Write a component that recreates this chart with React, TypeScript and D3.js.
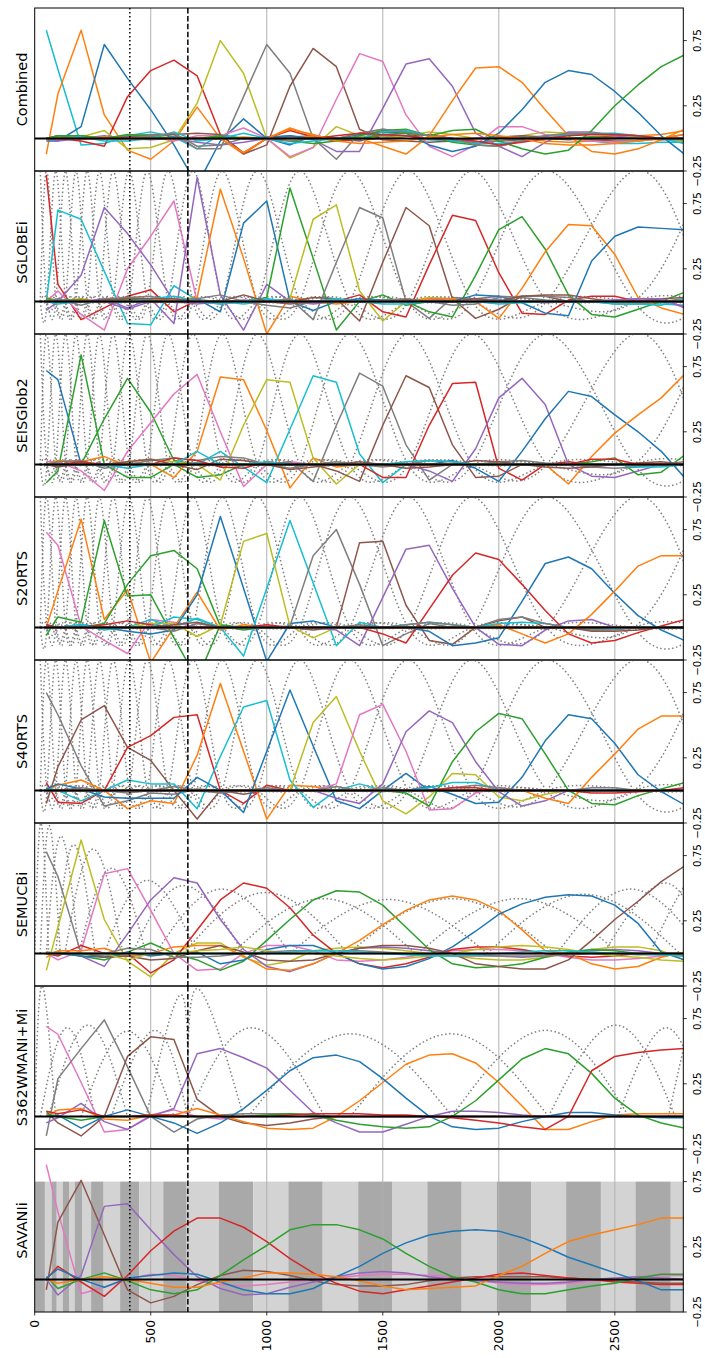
import React from "react";
import * as d3 from "d3";

// ---------- data ----------
const DEPTHS = [50, 100, 200, 300, 400, 500, 600, 700, 800, 900, 1000, 1100, 1200, 1300, 1400, 1500, 1600, 1700, 1800, 1900, 2000, 2100, 2200, 2300, 2400, 2500, 2600, 2700, 2800];
const PANEL_NAMES = ["Combined", "SGLOBEi", "SEISGlob2", "S20RTS", "S40RTS", "SEMUCBi", "S362WMANI+Mi", "SAVANIi"];
const DEPTH_TICKS = [0, 500, 1000, 1500, 2000, 2500];
const VALUE_TICKS = [-0.25, 0.25, 0.75];
const DISCONTINUITIES = [410, 660];

const combinedColors = [9, 1, 0, 3, 8, 7, 5, 6, 4, 1, 0, 2, 2, 9, 7, 3, 1];
const combinedLines = [
  [0.83,0.53,-0.05,-0.04,0.02, 0.05,0.01,-0.08,0.03,0.0, -0.01,0.01,0.02,0.0,0.01, 0.02,0.0,-0.01,-0.02,-0.03, -0.02,0.0,0.01,0.0,-0.02, -0.04,-0.04,-0.03,-0.03],
  [-0.12,0.34,0.83,0.18,-0.09, -0.16,-0.02,0.24,0.0,-0.12, 0.0,0.08,0.02,0.0,0.01, 0.02,0.02,0.0,-0.01,0.0, 0.01,0.0,-0.02,-0.03,-0.02, 0.0,0.02,0.03,0.06],
  [-0.02,-0.02,0.09,0.72,0.46, 0.22,-0.05,-0.36,-0.02,0.15, 0.0,-0.05,0.02,0.0,-0.02, 0.03,0.02,0.0,-0.01,0.0, 0.0,0.01,0.0,-0.01,0.0, 0.02,0.01,0.0,-0.02],
  [0.0,0.0,-0.02,-0.06,0.32, 0.52,0.6,0.48,0.03,-0.11, 0.0,0.06,0.01,-0.02,-0.01, 0.0,0.02,0.03,0.0,-0.03, -0.02,-0.01,0.0,0.0,0.01, 0.01,0.0,-0.01,0.0],
  [0.0,0.0,0.01,0.06,-0.08, -0.07,-0.01,0.27,0.75,0.5, 0.0,-0.15,-0.07,0.09,0.02, 0.0,0.02,0.05,0.03,0.0, -0.02,0.02,0.05,0.04,0.03, 0.02,0.01,0.0,-0.02],
  [0.0,0.02,0.0,0.0,0.02, 0.03,0.03,-0.08,-0.08,0.32, 0.72,0.5,0.0,-0.16,0.04, 0.07,0.05,0.02,0.0,-0.03, -0.02,0.0,0.02,0.03,0.03, 0.03,0.02,0.0,0.0],
  [0.0,0.0,0.0,0.0,0.01, 0.02,0.03,0.04,0.03,-0.12, -0.05,0.4,0.69,0.55,0.07, -0.01,-0.02,-0.03,-0.02,0.0, 0.01,0.02,0.01,0.0,-0.01, -0.02,-0.02,0.0,0.03],
  [0.0,0.0,0.0,0.0,0.0, 0.01,-0.02,0.02,0.02,0.08, 0.0,-0.14,-0.07,0.3,0.65, 0.59,0.18,-0.06,-0.14,-0.05, 0.09,0.09,0.03,0.0,-0.02, -0.03,-0.02,0.0,0.0],
  [0.0,-0.02,0.0,0.02,0.0, -0.01,0.0,-0.03,-0.05,-0.03, 0.0,0.02,-0.01,-0.1,-0.1, 0.23,0.57,0.61,0.4,0.04, -0.06,-0.14,-0.03,0.05,0.05, 0.02,0.0,0.0,0.0],
  [0.0,0.0,0.0,0.01,0.0, 0.0,0.0,0.0,0.0,0.01, 0.0,0.0,0.02,0.0,0.0, -0.06,-0.12,0.02,0.29,0.54, 0.55,0.43,0.22,0.02,-0.1, -0.12,-0.08,-0.01,0.07],
  [0.0,0.0,0.01,0.0,0.0, 0.0,0.01,0.0,0.0,0.0, 0.01,0.02,0.0,0.0,0.03, 0.05,0.04,-0.05,-0.1,-0.06, 0.04,0.22,0.43,0.52,0.49, 0.36,0.2,0.02,-0.12],
  [0.0,0.02,0.02,0.0,0.0, 0.01,0.0,0.0,0.01,0.0, 0.0,0.0,0.0,0.0,0.0, 0.03,0.04,0.02,0.06,0.07, -0.02,-0.08,-0.12,-0.09,0.06, 0.25,0.41,0.55,0.64],
  [0.0,0.02,0.02,0.0,0.03, 0.02,0.0,0.0,0.02,0.0, 0.0,-0.02,-0.04,-0.02,0.02, 0.06,0.07,0.02,-0.03,-0.05, -0.06,-0.02,0.0,0.0,0.01, 0.0,0.0,0.0,0.0],
  [0.0,0.0,0.01,-0.02,-0.02, 0.0,0.05,-0.02,0.0,0.04, 0.0,-0.04,-0.02,0.0,0.0, 0.05,0.06,0.02,-0.02,-0.04, -0.04,-0.02,0.0,0.03,0.04, 0.04,0.02,0.0,-0.04],
  [0.0,0.0,0.0,0.0,0.0, 0.02,0.04,-0.06,-0.05,0.0, 0.0,-0.02,0.0,0.0,0.04, 0.07,0.05,0.02,0.0,-0.05, -0.06,-0.02,0.02,0.04,0.04, 0.03,0.02,0.0,-0.01],
  [0.0,0.0,0.0,0.0,0.0, 0.0,0.0,0.0,0.0,0.0, 0.0,0.0,0.0,0.02,0.04, 0.03,0.02,0.0,0.0,-0.02, -0.05,-0.03,0.0,0.02,0.03, 0.03,0.02,0.0,0.0],
  [0.0,0.0,0.0,0.0,0.0, 0.0,0.0,0.0,0.0,-0.11, 0.0,0.07,0.03,-0.02,-0.04, -0.03,-0.02,0.01,0.03,0.04, 0.02,0.0,-0.04,-0.05,-0.05, -0.04,-0.02,0.0,0.03],
];

const sglobeColors = [3, 9, 4, 6, 4, 1, 0, 2, 8, 7, 5, 3, 2, 1, 0, 7, 9, 5, 4];
const sglobeLines = [
  [0.97,0.13,-0.14,-0.05,0.04, 0.09,-0.08,0.01,0.0,0.0, 0.01,0.0,-0.01,0.0,0.0, 0.0,0.0,0.0,0.0,0.0, 0.0,0.0,0.0,0.0,0.0, 0.0,0.0,0.0,0.0],
  [0.0,0.7,0.63,0.23,-0.17, -0.18,0.12,0.01,0.0,-0.02, 0.0,0.01,0.0,-0.01,0.0, 0.01,0.0,0.0,0.0,0.0, 0.01,0.0,0.0,0.0,0.0, 0.0,-0.01,-0.02,-0.03],
  [-0.07,0.0,0.2,0.72,0.52, 0.28,0.0,-0.02,0.0,0.01, 0.0,0.0,0.0,0.0,0.0, 0.0,0.0,0.0,0.0,0.0, 0.0,0.0,0.0,0.0,0.0, 0.0,0.0,0.0,0.0],
  [0.0,0.08,-0.1,-0.22,0.25, 0.5,0.77,0.0,-0.02,0.0, 0.01,0.0,0.0,0.0,0.0, 0.0,0.0,0.0,0.0,0.0, 0.0,0.0,0.0,0.0,0.0, 0.0,0.0,0.0,0.0],
  [0.0,0.0,0.0,0.02,-0.05, 0.02,-0.17,0.95,0.05,-0.22, 0.13,0.0,-0.02,0.0,0.0, 0.0,0.0,0.01,0.02,0.02, 0.01,0.0,-0.01,0.0,0.0, 0.01,0.02,0.01,-0.04],
  [0.03,0.0,0.02,-0.01,0.03, 0.02,0.01,0.03,0.86,0.33, -0.25,0.04,0.0,-0.02,0.0, 0.0,0.01,0.0,0.0,0.0, 0.0,0.0,0.0,0.0,0.0, 0.0,0.0,0.0,0.0],
  [0.0,0.0,0.0,0.0,0.0, 0.0,0.0,0.02,-0.08,0.6, 0.77,0.0,-0.07,0.0,0.02, 0.01,0.0,0.0,0.0,0.0, 0.0,0.0,0.0,0.0,0.0, 0.0,0.0,0.0,0.0],
  [0.02,0.01,0.01,0.0,0.02, 0.0,0.0,0.0,0.0,0.0, 0.03,0.87,0.33,-0.22,0.0, 0.05,-0.03,0.0,0.0,0.0, 0.0,0.0,0.0,0.0,0.0, 0.0,0.0,0.0,0.0],
  [0.0,0.0,0.0,0.0,0.0, 0.0,0.0,0.0,0.0,0.0, 0.0,0.02,0.63,0.74,0.08, -0.15,0.0,0.03,0.02,0.0, 0.0,0.0,0.0,0.0,0.0, 0.0,0.0,0.0,0.0],
  [0.0,0.0,0.0,0.0,0.0, 0.0,0.0,0.0,0.0,0.0, 0.0,0.02,-0.14,0.3,0.72, 0.64,0.0,-0.13,0.03,0.02, 0.04,0.03,0.01,0.0,0.0, 0.0,0.0,0.0,0.0],
  [0.0,0.0,0.0,0.0,0.0, 0.0,0.0,0.0,0.0,0.0, 0.0,0.0,0.03,0.02,-0.15, 0.3,0.72,0.58,0.02,-0.13, -0.06,0.04,0.04,0.0,0.0, 0.0,0.0,0.0,0.0],
  [0.0,0.0,0.0,0.0,0.0, 0.0,0.0,0.0,0.0,0.0, 0.0,0.0,0.0,0.0,0.05, -0.08,-0.12,0.28,0.66,0.62, 0.22,-0.09,-0.1,0.01,0.04, 0.04,0.0,0.0,0.0],
  [0.0,0.0,0.0,0.0,0.0, 0.0,0.0,0.0,0.0,0.0, 0.0,0.0,0.0,0.0,0.0, 0.0,0.0,-0.08,-0.12,0.2, 0.55,0.65,0.4,0.05,-0.1, -0.12,-0.06,0.0,0.07],
  [0.0,0.0,0.0,0.0,0.0, 0.0,0.0,0.0,0.0,0.0, 0.0,0.0,0.0,0.0,0.0, 0.0,0.0,0.02,0.02,0.0, -0.13,0.1,0.38,0.59,0.58, 0.36,0.03,-0.05,-0.1],
  [0.0,0.0,0.0,0.0,0.0, 0.0,0.0,0.0,0.0,0.0, 0.0,0.0,0.0,0.0,0.0, 0.0,0.0,0.0,0.0,0.05, 0.04,-0.01,-0.09,-0.11,0.31, 0.5,0.57,0.56,0.55],
  [0.0,0.02,-0.03,0.02,0.03, 0.04,0.0,0.02,0.05,0.0, -0.03,-0.05,0.0,0.02,0.0, 0.01,0.02,0.0,-0.03,-0.02, 0.03,0.04,0.04,0.03,0.0, -0.02,-0.02,0.0,0.02],
  [0.0,-0.02,0.0,0.0,0.0, 0.02,0.04,0.0,-0.02,0.0, 0.02,0.0,0.0,0.02,0.0, -0.02,-0.02,0.0,0.0,0.0, -0.02,-0.01,0.0,0.0,0.0, -0.02,-0.02,-0.03,0.02],
  [0.0,0.0,0.0,0.01,0.02, 0.02,0.02,0.0,0.0,0.05, 0.0,-0.02,0.0,0.0,0.0, 0.0,0.01,0.0,0.0,0.02, 0.0,0.04,0.05,0.05,0.02, 0.0,0.0,0.02,0.03],
  [0.0,0.0,0.0,0.0,-0.06, 0.0,0.0,0.0,0.0,0.0, 0.0,0.0,0.0,0.0,0.0, 0.0,0.0,0.0,0.0,0.0, 0.0,0.0,0.0,0.0,0.0, 0.01,0.02,0.02,-0.05],
];

const seisColors = [0, 2, 2, 6, 1, 8, 9, 7, 5, 3, 4, 0, 1, 2, 7, 5, 3, 9];
const seisLines = [
  [0.72,0.65,0.0,-0.01,0.01, 0.0,0.0,0.01,0.0,0.0, 0.0,0.0,0.0,0.0,0.0, 0.0,0.0,0.0,0.0,0.0, 0.0,0.0,0.0,0.0,0.0, 0.0,0.0,0.0,0.0],
  [-0.14,-0.05,0.84,0.0,-0.1, -0.1,0.0,-0.1,-0.08,0.0, 0.0,0.0,0.0,0.0,0.0, 0.0,0.0,0.0,0.0,0.0, 0.0,0.0,0.0,0.0,0.0, 0.0,0.0,0.0,0.0],
  [0.0,0.0,0.0,0.35,0.66, 0.4,0.03,0.0,0.0,0.0, 0.0,0.0,0.0,0.0,0.0, 0.0,0.0,0.0,0.0,0.0, 0.0,0.0,0.0,0.0,0.0, 0.0,0.0,0.0,0.0],
  [0.02,0.02,-0.05,-0.2,0.1, 0.32,0.54,0.69,0.25,-0.17, 0.0,0.02,0.0,0.0,0.0, 0.0,0.0,0.0,0.0,0.0, 0.0,0.0,0.0,0.0,0.0, 0.0,0.0,0.0,0.0],
  [0.0,0.03,0.02,0.06,-0.01, 0.0,-0.1,0.1,0.67,0.65, 0.26,-0.18,0.05,-0.02,0.0, 0.0,0.0,0.0,0.0,0.0, 0.0,0.0,0.0,0.0,0.0, 0.0,0.0,0.0,0.0],
  [0.0,0.0,0.0,0.0,0.02, 0.04,0.02,0.0,-0.12,0.3, 0.65,0.63,0.05,-0.15,0.0, 0.0,0.0,0.0,0.0,0.0, 0.0,0.0,0.0,0.0,0.0, 0.0,0.0,0.0,0.0],
  [0.0,0.0,0.0,0.0,0.0, 0.0,0.0,0.0,0.1,-0.02, -0.14,0.27,0.68,0.63,0.08, -0.14,0.0,0.0,0.0,0.0, 0.0,0.0,0.0,0.0,0.0, 0.0,0.0,0.0,0.0],
  [0.0,0.0,0.0,0.0,0.0, 0.0,0.0,0.0,0.0,0.0, 0.0,0.02,-0.13,0.3,0.7, 0.6,0.15,-0.12,0.0,0.0, 0.0,0.0,0.0,0.0,0.0, 0.0,0.0,0.0,0.0],
  [0.0,0.0,0.0,0.0,0.0, 0.0,0.0,0.0,0.0,0.0, 0.0,0.0,0.0,-0.05,-0.13, 0.3,0.68,0.59,0.15,-0.1, -0.09,0.0,0.0,0.0,0.0, 0.0,0.0,0.0,0.0],
  [0.0,0.0,0.0,0.0,0.0, 0.0,0.0,0.0,0.0,0.0, 0.0,0.0,0.0,0.0,0.0, -0.1,-0.1,0.3,0.62,0.63, -0.03,-0.12,0.0,0.02,0.0, 0.0,0.0,0.0,0.0],
  [0.0,0.0,0.0,0.0,0.0, 0.0,0.0,0.0,0.0,0.0, 0.0,0.0,0.0,0.0,0.0, 0.0,0.0,-0.05,-0.13,0.12, 0.51,0.66,0.46,0.0,-0.09, -0.1,-0.05,0.0,0.0],
  [0.0,0.0,0.0,0.0,0.0, 0.0,0.0,0.0,0.0,0.0, 0.0,0.0,0.0,0.0,0.0, 0.0,0.0,0.0,0.03,-0.03, -0.13,0.1,0.35,0.56,0.52, 0.38,0.25,0.1,-0.1],
  [0.0,0.0,0.0,0.0,0.0, 0.0,0.0,0.0,0.0,0.0, 0.0,0.0,0.0,0.0,0.0, 0.0,0.0,0.0,0.0,0.0, 0.0,0.0,0.0,-0.15,0.06, 0.24,0.38,0.51,0.69],
  [0.0,0.0,0.0,0.0,0.0, 0.0,0.0,0.0,0.0,0.0, 0.0,0.0,0.0,0.0,0.0, 0.0,0.0,0.0,0.0,0.0, 0.0,0.0,0.0,0.0,0.02, 0.05,-0.08,-0.06,0.07],
  [0.0,0.02,0.03,-0.03,0.0, 0.03,0.05,0.03,0.06,0.05, 0.0,-0.03,0.0,0.02,0.0, -0.02,0.0,0.03,0.02,0.0, 0.02,0.03,0.01,0.0,-0.02, -0.03,-0.02,0.0,0.02],
  [0.0,-0.02,0.01,0.0,0.02, 0.04,0.0,-0.04,0.04,0.03, 0.0,-0.04,-0.02,0.0,0.02, 0.0,-0.03,-0.02,0.0,0.03, 0.02,0.0,-0.02,-0.03,-0.02, 0.0,0.01,0.02,0.0],
  [0.0,0.0,0.02,0.0,0.0, 0.0,0.05,0.03,-0.02,-0.03, 0.02,0.0,0.0,0.0,0.0, 0.0,0.0,0.0,0.0,0.0, 0.0,0.0,0.0,0.0,0.04, 0.04,0.0,0.0,0.0],
  [0.0,0.0,0.0,0.0,-0.03, 0.0,0.0,0.1,0.0,0.0, 0.02,0.0,0.0,0.0,0.0, 0.0,0.02,0.03,0.02,0.0, 0.0,0.0,0.0,0.0,0.0, 0.0,-0.02,-0.02,0.0],
];

const s20Colors = [6, 1, 2, 2, 0, 9, 8, 7, 5, 4, 3, 0, 1, 3, 9, 7, 5];
const s20Lines = [
  [0.73,0.63,0.01,-0.1,-0.2, 0.06,0.04,0.0,0.0,0.0, 0.0,0.0,0.0,0.0,0.0, 0.0,0.0,0.0,0.0,0.0, 0.0,0.0,0.0,0.0,0.0, 0.0,0.0,0.0,0.0],
  [0.0,0.28,0.83,0.06,0.29, -0.27,0.0,0.27,-0.02,0.02, 0.0,0.0,0.0,0.0,0.0, 0.0,0.0,0.0,0.0,0.0, 0.0,0.0,0.0,0.0,0.0, 0.0,0.0,0.0,0.0],
  [-0.06,0.08,0.04,0.82,0.24, 0.25,-0.08,-0.4,0.02,0.0, 0.0,0.0,0.0,0.0,0.0, 0.0,0.0,0.0,0.0,0.0, 0.0,0.0,0.0,0.0,0.0, 0.0,0.0,0.0,0.0],
  [0.0,0.0,0.0,0.03,0.33, 0.55,0.59,0.45,0.01,-0.02, 0.0,0.0,0.0,0.0,0.0, 0.0,0.0,0.0,0.0,0.0, 0.0,0.0,0.0,0.0,0.0, 0.0,0.0,0.0,0.0],
  [0.02,0.0,0.02,0.0,-0.03, -0.05,-0.02,0.25,0.85,0.3, -0.26,0.03,0.05,0.0,0.0, 0.0,0.0,0.0,0.0,0.0, 0.0,0.0,0.0,0.0,0.0, 0.0,0.0,0.0,0.0],
  [0.0,0.0,0.0,0.0,0.0, 0.06,0.0,0.07,0.0,-0.22, 0.3,0.82,0.34,-0.14,0.04, 0.0,0.0,0.0,0.0,0.0, 0.0,0.0,0.0,0.0,0.0, 0.0,0.0,0.0,0.0],
  [0.0,0.0,0.0,0.0,0.0, 0.03,0.03,-0.07,0.02,0.66, 0.72,0.01,-0.08,0.0,0.0, 0.0,0.0,0.0,0.0,0.0, 0.0,0.0,0.0,0.0,0.0, 0.0,0.0,0.0,0.0],
  [0.0,0.0,0.0,0.0,0.0, 0.0,0.0,0.0,0.0,0.0, 0.0,0.01,0.55,0.75,0.33, -0.14,-0.05,0.03,0.0,0.0, 0.0,0.0,0.0,0.0,0.0, 0.0,0.0,0.0,0.0],
  [0.0,0.0,0.0,0.0,0.0, 0.0,0.0,0.0,0.0,0.0, 0.0,0.0,-0.02,0.0,0.65, 0.66,0.17,-0.1,-0.13,0.0, 0.05,0.08,0.0,0.0,0.0, 0.0,0.0,0.0,0.0],
  [0.0,0.0,0.0,0.0,0.0, 0.0,0.0,0.0,0.0,0.0, 0.0,0.0,0.0,-0.02,-0.14, 0.23,0.6,0.63,0.3,0.0, -0.13,-0.14,-0.02,0.05,0.06, 0.0,0.0,0.0,0.0],
  [0.0,0.0,0.0,0.0,0.0, 0.0,0.0,0.0,0.0,0.0, 0.0,0.0,0.0,0.0,0.0, -0.05,-0.12,0.14,0.4,0.57, 0.52,0.33,0.13,-0.05,-0.12, -0.1,-0.04,0.01,0.06],
  [0.0,0.0,0.0,0.0,0.0, 0.0,0.0,0.0,0.0,0.0, 0.0,0.0,0.0,0.0,0.0, 0.0,0.0,-0.03,-0.14,-0.12, -0.08,0.2,0.49,0.54,0.45, 0.26,0.09,-0.02,-0.1],
  [0.0,0.0,0.0,0.0,0.0, 0.0,0.0,0.0,0.0,0.0, 0.0,0.0,0.0,0.0,0.0, 0.0,0.0,0.0,0.0,0.0, 0.02,-0.05,-0.12,-0.05,0.1, 0.28,0.47,0.55,0.55],
  [0.02,0.0,0.0,0.02,0.05, 0.02,0.0,0.0,0.0,0.0, 0.02,0.0,0.0,0.0,0.0, 0.0,0.0,0.0,0.0,0.0, 0.0,0.0,0.0,0.0,0.0, 0.0,0.0,0.0,0.0],
  [0.0,0.0,0.02,-0.02,0.0, 0.0,0.08,0.06,0.0,0.0, 0.0,0.0,0.0,0.0,0.0, 0.0,0.02,0.04,0.02,0.0, 0.03,0.04,0.03,0.0,-0.02, -0.01,0.0,0.0,0.0],
  [0.0,0.0,0.0,0.0,0.0, 0.0,-0.03,0.03,0.0,0.0, 0.0,0.0,0.0,0.0,0.02, 0.0,0.02,0.04,0.02,0.0, 0.06,0.08,0.03,0.0,-0.02, -0.02,0.0,0.0,0.0],
  [0.0,0.0,0.0,0.0,0.0, 0.0,0.02,0.04,0.0,0.0, 0.0,0.0,0.0,0.0,0.0, 0.0,0.0,0.0,0.0,0.0, 0.0,0.0,0.0,0.0,-0.03, -0.03,-0.02,0.0,0.0],
];

const s40Colors = [7, 5, 3, 1, 9, 0, 8, 6, 4, 2, 0, 1, 9, 7, 3];
const s40Lines = [
  [0.75,0.58,0.19,-0.12,-0.08, -0.02,-0.03,0.01,0.0,0.0, 0.0,0.0,0.0,0.0,0.0, 0.0,0.0,0.0,0.0,0.0, 0.0,0.0,0.0,0.0,0.0, 0.0,0.0,0.0,0.0],
  [-0.1,0.18,0.54,0.65,0.33, 0.23,0.0,-0.22,0.0,-0.03, 0.0,0.0,0.0,0.0,0.0, 0.0,0.0,0.0,0.0,0.0, 0.0,0.0,0.0,0.0,0.0, 0.0,0.0,0.0,0.0],
  [0.06,-0.09,-0.1,0.0,0.33, 0.42,0.56,0.58,0.0,-0.1, 0.04,0.0,0.0,0.0,0.0, 0.0,0.0,0.0,0.0,0.0, 0.0,0.0,0.0,0.0,0.0, 0.0,0.0,0.0,0.0],
  [0.0,0.04,0.08,0.0,-0.14, -0.08,-0.1,0.27,0.82,0.3, -0.22,0.04,0.03,0.0,0.0, 0.0,0.0,0.0,0.0,0.0, 0.0,0.0,0.0,0.0,0.0, 0.0,0.0,0.0,0.0],
  [0.02,0.0,-0.08,0.0,0.08, 0.05,0.05,-0.14,0.26,0.64, 0.69,0.08,-0.13,0.0,0.05, 0.0,0.0,0.0,0.0,0.0, 0.0,0.0,0.0,0.0,0.0, 0.0,0.0,0.0,0.0],
  [0.01,0.05,0.01,-0.05,-0.06, -0.06,-0.06,0.1,0.0,-0.17, 0.3,0.77,0.34,-0.08,-0.14, 0.0,0.13,0.0,0.0,0.0, 0.0,0.0,0.0,0.0,0.0, 0.0,0.0,0.0,0.0],
  [0.0,0.0,0.0,0.0,0.0, 0.0,0.0,0.0,0.0,0.0, 0.0,0.0,0.52,0.72,0.3, -0.08,-0.18,-0.05,0.13,0.12, -0.05,-0.08,-0.03,0.0,0.0, 0.0,0.0,0.0,0.0],
  [0.0,0.0,0.0,0.0,0.0, 0.0,0.0,0.0,0.0,0.0, 0.0,0.0,0.0,0.05,0.58, 0.66,0.3,-0.15,-0.14,-0.02, 0.02,0.0,0.0,0.0,0.0, 0.0,0.0,0.0,0.0],
  [0.0,0.0,0.0,0.0,0.0, 0.0,0.0,0.0,0.0,0.0, 0.0,0.0,0.0,-0.06,-0.1, 0.05,0.45,0.61,0.52,0.22, -0.01,-0.12,-0.08,0.0,0.0, 0.0,0.0,0.0,0.0],
  [0.0,0.0,0.0,0.0,0.0, 0.0,0.0,0.0,0.0,0.0, 0.0,0.0,0.0,0.0,0.0, 0.0,-0.02,-0.12,0.22,0.45, 0.59,0.55,0.28,0.0,-0.1, -0.11,-0.04,0.01,0.06],
  [0.0,0.0,0.0,0.0,0.0, 0.0,0.0,0.0,0.0,0.0, 0.0,0.0,0.0,0.0,0.0, 0.0,0.0,0.03,-0.03,-0.1, -0.09,0.1,0.38,0.58,0.55, 0.36,0.12,-0.01,-0.11],
  [0.0,0.0,0.0,0.0,0.0, 0.0,0.0,0.0,0.0,0.0, 0.0,0.0,0.0,0.0,0.0, 0.0,0.0,0.0,0.0,0.0, 0.0,0.0,-0.06,-0.1,0.1, 0.28,0.47,0.57,0.57],
  [0.0,0.0,0.0,0.0,0.0, 0.0,0.0,0.0,0.0,0.0, 0.0,0.0,0.0,0.0,0.0, 0.0,0.0,0.02,0.06,0.06, 0.0,0.0,0.0,0.0,0.0, 0.0,0.0,0.0,0.0],
  [0.0,0.0,0.02,0.0,-0.02, 0.0,0.03,0.0,-0.02,0.0, 0.02,0.0,0.0,0.03,0.0, 0.02,0.0,0.0,0.02,0.04, 0.02,0.0,0.0,0.0,0.02, 0.02,0.0,0.0,0.0],
  [0.0,0.0,0.0,0.0,0.0, 0.0,0.0,0.0,0.0,0.0, 0.0,0.0,0.0,0.0,0.0, 0.0,0.0,0.0,0.02,0.02, 0.0,0.0,0.0,0.0,-0.02, -0.02,-0.01,0.0,0.02],
];

const semucbColors = [7, 8, 6, 4, 3, 2, 1, 0, 5, 8, 7, 9];
const semucbLines = [
  [0.78,0.59,0.0,-0.02,-0.02, -0.01,0.0,0.0,0.0,0.0, 0.0,0.0,0.0,0.0,0.0, 0.0,0.0,0.0,0.0,0.0, 0.0,0.0,0.0,0.0,0.0, 0.0,0.0,0.0,0.0],
  [-0.13,0.2,0.87,0.26,-0.06, -0.18,0.0,0.08,0.08,-0.03, -0.09,-0.06,0.02,0.04,0.05, 0.04,0.02,0.0,-0.02,-0.04, -0.05,-0.05,-0.03,0.0,0.03, 0.05,0.05,0.02,-0.05],
  [0.0,-0.05,0.02,0.61,0.65, 0.33,0.0,-0.13,-0.12,0.0, 0.06,0.06,0.02,-0.05,-0.06, -0.05,-0.03,0.0,0.02,0.03, 0.03,0.02,0.0,-0.03,-0.05, -0.05,-0.04,-0.02,0.0],
  [0.0,0.01,-0.02,-0.1,0.15, 0.41,0.58,0.54,0.26,0.03, -0.1,-0.14,-0.08,0.0,0.04, 0.05,0.04,0.02,0.0,-0.01, -0.02,-0.03,-0.02,0.0,0.02, 0.03,0.02,0.0,0.0],
  [0.0,-0.02,0.06,0.0,0.0, -0.15,-0.05,0.18,0.41,0.54, 0.5,0.35,0.14,0.0,-0.08, -0.11,-0.08,-0.03,0.03,0.05, 0.05,0.03,0.0,-0.02,-0.03, -0.02,0.0,0.0,0.0],
  [0.0,0.01,-0.02,-0.05,0.01, 0.08,0.0,-0.05,-0.13,-0.06, 0.1,0.26,0.41,0.48,0.47, 0.37,0.2,0.03,-0.08,-0.11, -0.1,-0.08,-0.03,0.01,0.03, 0.02,0.0,0.0,0.0],
  [-0.03,0.02,0.02,0.04,-0.02, 0.0,0.05,0.06,0.06,-0.02, -0.12,-0.13,-0.08,0.0,0.1, 0.22,0.33,0.41,0.44,0.41, 0.33,0.18,0.02,0.0,-0.08, -0.12,-0.1,-0.03,0.01],
  [0.0,0.0,-0.02,-0.03,0.01, -0.02,0.0,0.01,-0.08,-0.05, 0.03,0.06,0.06,0.0,-0.08, -0.12,-0.1,-0.04,0.05,0.17, 0.3,0.38,0.43,0.45,0.44, 0.37,0.23,0.01,-0.05],
  [0.01,0.0,0.0,-0.03,-0.02, -0.05,-0.04,0.02,0.06,0.01, -0.05,-0.06,-0.05,0.0,0.04, 0.06,0.06,0.04,0.0,-0.08, -0.1,-0.12,-0.12,-0.05,0.1, 0.26,0.4,0.55,0.67],
  [0.0,0.0,0.0,0.0,-0.05, 0.0,0.0,0.02,0.03,0.05, 0.02,0.0,0.0,-0.02,-0.04, -0.05,-0.04,-0.02,0.0,0.03, 0.05,0.06,0.05,0.03,0.0, -0.02,-0.03,-0.05,-0.06],
  [0.0,0.0,0.0,0.0,0.04, 0.03,-0.03,-0.03,-0.02,0.0, 0.01,0.02,0.02,0.02,0.02, 0.01,0.0,-0.01,-0.02,-0.02, -0.02,-0.02,-0.02,-0.01,0.0, 0.0,-0.01,-0.01,-0.02],
  [0.0,0.0,0.0,0.0,0.0, 0.0,0.0,0.0,0.0,0.0, 0.0,0.01,0.02,0.02,0.01, 0.0,-0.01,-0.02,-0.02,-0.01, 0.0,0.01,0.02,0.02,0.01, 0.0,0.0,-0.01,-0.02],
];

const s362Colors = [6, 7, 5, 4, 1, 0, 2, 3];
const s362Lines = [
  [0.69,0.63,0.26,-0.12,-0.1, 0.01,0.05,0.0,-0.02,0.0, 0.0,0.0,0.0,0.0,0.0, 0.0,0.0,0.0,0.0,0.0, 0.0,0.0,0.0,0.0,0.0, 0.0,0.0,0.0,0.0],
  [-0.15,0.29,0.52,0.74,0.38, 0.0,-0.12,-0.02,0.01,0.02, 0.02,0.02,0.01,0.0,0.0, 0.0,0.0,0.0,0.0,0.0, 0.0,0.0,0.0,0.0,0.0, 0.0,0.0,0.0,0.0],
  [0.04,-0.05,-0.15,0.0,0.46, 0.61,0.59,0.13,0.0,-0.05, -0.07,-0.05,-0.02,0.0,0.0, 0.0,0.0,0.0,0.0,0.0, 0.0,0.0,0.0,0.0,0.0, 0.0,0.0,0.0,0.0],
  [-0.05,-0.01,0.1,-0.04,-0.1, 0.0,0.06,0.48,0.52,0.45, 0.37,0.2,0.03,-0.05,-0.12, -0.12,-0.06,0.0,0.04,0.04, 0.03,0.01,0.0,0.0,0.0, 0.0,0.0,0.0,0.0],
  [0.0,0.05,0.06,-0.02,-0.03, 0.01,0.01,0.06,0.01,-0.04, -0.09,-0.1,-0.09,0.0,0.12, 0.26,0.4,0.47,0.48,0.41, 0.26,0.08,-0.1,-0.1,-0.04, 0.01,0.02,0.02,0.02],
  [0.0,0.01,-0.09,0.0,0.05, 0.0,-0.05,-0.13,-0.05,0.06, 0.2,0.35,0.45,0.47,0.42, 0.29,0.14,0.0,-0.08,-0.1, -0.09,-0.04,0.0,0.03,0.03, 0.01,0.0,-0.01,-0.01],
  [0.02,0.0,-0.03,0.0,0.0, 0.01,0.0,0.0,0.0,0.0, 0.01,0.02,0.01,-0.03,-0.06, -0.08,-0.09,-0.08,0.0,0.12, 0.28,0.44,0.52,0.48,0.33, 0.14,0.01,-0.05,-0.09],
  [0.04,0.02,0.05,0.0,0.0, 0.01,0.01,0.0,0.0,0.0, 0.0,0.01,0.02,0.02,0.02, 0.01,0.01,0.0,-0.01,-0.03, -0.05,-0.08,-0.1,0.0,0.35, 0.46,0.49,0.51,0.52],
];

const savaniColors = [6, 5, 4, 3, 2, 0, 1];
const savaniLines = [
  [0.88,0.52,-0.11,-0.06,0.0, 0.04,0.03,-0.01,-0.04,-0.05, -0.04,-0.02,0.0,0.01,0.03, 0.04,0.04,0.03,0.02,0.0, -0.03,-0.04,-0.04,-0.03,-0.01, 0.0,0.02,0.03,0.03],
  [-0.08,0.44,0.76,0.34,-0.08, -0.18,-0.13,-0.04,0.03,0.07, 0.06,0.03,-0.01,-0.04,-0.05, -0.05,-0.04,-0.01,0.01,0.02, 0.02,0.02,0.02,0.01,0.0, -0.01,-0.02,-0.03,-0.03],
  [0.0,-0.12,0.03,0.56,0.58, 0.38,0.19,0.02,-0.07,-0.12, -0.11,-0.06,-0.02,0.02,0.05, 0.06,0.05,0.02,0.0,-0.01, -0.02,-0.03,-0.03,-0.02,0.0, 0.01,0.02,0.01,0.0],
  [0.0,0.1,-0.02,-0.13,0.03, 0.22,0.37,0.47,0.47,0.4, 0.29,0.16,0.05,-0.03,-0.09, -0.11,-0.08,-0.05,-0.02,0.01, 0.04,0.05,0.03,0.01,0.0, -0.02,-0.03,-0.04,-0.04],
  [0.02,-0.07,0.0,0.05,-0.01, -0.08,-0.11,-0.08,0.03,0.15, 0.26,0.38,0.42,0.42,0.38, 0.31,0.2,0.1,0.02,-0.02, -0.08,-0.11,-0.11,-0.08,-0.05, -0.03,0.01,0.04,0.04],
  [0.01,0.08,0.0,-0.06,0.01, 0.03,0.05,0.04,-0.02,-0.08, -0.11,-0.11,-0.07,0.02,0.1, 0.2,0.28,0.34,0.37,0.38, 0.37,0.32,0.25,0.17,0.11, 0.05,-0.01,-0.08,-0.08],
  [0.0,-0.03,0.0,0.02,0.0, -0.03,-0.06,-0.06,-0.02,0.01, 0.05,0.05,0.04,0.02,-0.01, -0.05,-0.08,-0.07,-0.06,-0.05, 0.03,0.1,0.2,0.29,0.34, 0.38,0.42,0.47,0.47],
];

// radial basis of the spline models (dotted grey curves)
const s20Knots = [24, 53, 91, 133, 178, 226, 279, 338, 407, 485, 575, 682, 808, 960, 1142, 1358, 1609, 1885, 2206, 2583, 2891];

const semucbHumpPeak = [25, 60, 110, 165, 250, 330, 479, 633, 806, 997, 1242, 1524, 1796, 2087, 2368, 2568, 2740, 2891];
const semucbHumpLeft = [0, 24, 50, 90, 130, 190, 300, 420, 520, 640, 850, 1100, 1350, 1650, 1950, 2250, 2450, 2650];
const semucbHumpRight = [60, 110, 190, 260, 380, 480, 700, 900, 1100, 1350, 1640, 1950, 2240, 2520, 2780, 2891, 2891, 2891];
const semucbHumpAmp = [1.5, 1.47, 1.35, 1.25, 1.2, 0.98, 0.84, 0.78, 0.74, 0.7, 0.63, 0.62, 0.63, 0.63, 0.68, 0.74, 0.81, 0.9];

const s362HumpPeak = [25, 140, 230, 400, 530, 660, 660, 924, 1360, 1796, 2214, 2513, 2731, 2891];
const s362HumpLeft = [0, 24, 60, 200, 330, 480, 660, 660, 920, 1360, 1796, 2214, 2513, 2731];
const s362HumpRight = [90, 260, 400, 600, 660, 660, 900, 1250, 1800, 2214, 2560, 2760, 2891, 2891];
const s362HumpAmp = [1.5, 1.02, 1.05, 0.98, 0.99, 1.4, 1.47, 1.02, 0.95, 0.95, 0.99, 1.05, 1.02, 1.3];

const savaniLayers = [0, 44, 73, 95, 121, 148, 172, 204, 243, 297, 368, 451, 554, 655, 794, 942, 1093, 1241, 1394, 1542, 1692, 1840, 1991, 2139, 2290, 2440, 2589, 2741, 2891];

// ---------- layout ----------
const PLOT_LEFT = 34.7;
const PLOT_RIGHT = 683.3;
const TOP0 = 8;
const PH = 163;
const FONT = "DejaVu Sans";

const PANELS = [
  { lines: combinedLines, colors: combinedColors, kind: "none" },
  { lines: sglobeLines, colors: sglobeColors, kind: "s20" },
  { lines: seisLines, colors: seisColors, kind: "s20" },
  { lines: s20Lines, colors: s20Colors, kind: "s20" },
  { lines: s40Lines, colors: s40Colors, kind: "s20" },
  { lines: semucbLines, colors: semucbColors, kind: "semucb" },
  { lines: s362Lines, colors: s362Colors, kind: "s362" },
  { lines: savaniLines, colors: savaniColors, kind: "savani" },
];

export default function App() {
  const x = d3.scaleLinear().domain([0, 2795]).range([PLOT_LEFT, PLOT_RIGHT]);
  const y = d3.scaleLinear().domain([-0.25, 1.0]).range([PH, 0]);
  const colors = d3.schemeCategory10;
  const kernelLine = d3
    .line<number>()
    .x((_, i) => x(DEPTHS[i]))
    .y((v) => y(v));
  const natural = d3
    .line<[number, number]>()
    .x((d) => x(d[0]))
    .y((d) => y(d[1]))
    .curve(d3.curveNatural);
  const basis = d3
    .line<[number, number]>()
    .x((d) => x(d[0]))
    .y((d) => y(d[1]))
    .curve(d3.curveBasis);
  const fmt = d3.format(".2f");

  const s20Paths = s20Knots.map((_, i) =>
    natural(s20Knots.map((k, j) => [k, j === i ? 1 : 0] as [number, number])) as string
  );
  const humpPaths = (L: number[], P: number[], R: number[], A: number[]) =>
    P.map((p, i) =>
      basis([
        [L[i], 0],
        [L[i], 0],
        [p, A[i]],
        [R[i], 0],
        [R[i], 0],
      ]) as string
    );
  const semucbPaths = humpPaths(semucbHumpLeft, semucbHumpPeak, semucbHumpRight, semucbHumpAmp);
  const s362Paths = humpPaths(s362HumpLeft, s362HumpPeak, s362HumpRight, s362HumpAmp);

  const dotted = (paths: string[], key: string) =>
    paths.map((d, i) => (
      <path key={key + i} d={d} fill="none" stroke="#808080" strokeWidth={1.5} strokeDasharray="1.5,2.5" />
    ));

  const width = PLOT_RIGHT - PLOT_LEFT;
  const bottom = TOP0 + PANELS.length * PH;

  return (
    <svg
      width={705}
      height={1358}
      style={{ position: "absolute", left: 0, top: 0, background: "#fff" }}
      fontFamily={FONT}
    >
      <rect x={0} y={0} width={705} height={1358} fill="#fff" />
      <defs>
        {PANELS.map((_, pi) => (
          <clipPath id={"clip" + pi} key={pi}>
            <rect x={PLOT_LEFT} y={0} width={width} height={PH} />
          </clipPath>
        ))}
      </defs>
      {PANELS.map((panel, pi) => {
        const top = TOP0 + pi * PH;
        return (
          <g key={pi} transform={`translate(0,${top})`}>
            <g clipPath={`url(#clip${pi})`}>
              {panel.kind === "savani" &&
                savaniLayers.slice(0, -1).map((d, i) => (
                  <rect
                    key={"b" + i}
                    x={x(d)}
                    y={y(0.75)}
                    width={x(savaniLayers[i + 1]) - x(d)}
                    height={y(-0.25) - y(0.75)}
                    fill={i % 2 === 0 ? "#a9a9a9" : "#d3d3d3"}
                  />
                ))}
              {DEPTH_TICKS.slice(1).map((t) => (
                <line key={"g" + t} x1={x(t)} x2={x(t)} y1={0} y2={PH} stroke="#b0b0b0" strokeWidth={1} />
              ))}
              {panel.kind === "s20" && dotted(s20Paths, "s")}
              {panel.kind === "semucb" && dotted(semucbPaths, "m")}
              {panel.kind === "s362" && dotted(s362Paths, "p")}
              {panel.lines.map((vals, li) => (
                <path
                  key={"l" + li}
                  d={kernelLine(vals) as string}
                  fill="none"
                  stroke={colors[panel.colors[li]]}
                  strokeWidth={1.5}
                  strokeLinejoin="round"
                />
              ))}
              <line x1={PLOT_LEFT} x2={PLOT_RIGHT} y1={y(0)} y2={y(0)} stroke="#000" strokeWidth={2} />
              <line
                x1={x(DISCONTINUITIES[0])}
                x2={x(DISCONTINUITIES[0])}
                y1={0}
                y2={PH}
                stroke="#000"
                strokeWidth={1.5}
                strokeDasharray="1.5,2.5"
              />
              <line
                x1={x(DISCONTINUITIES[1])}
                x2={x(DISCONTINUITIES[1])}
                y1={0}
                y2={PH}
                stroke="#000"
                strokeWidth={1.5}
                strokeDasharray="5.5,2.4"
              />
            </g>
            <rect x={PLOT_LEFT} y={0} width={width} height={PH} fill="none" stroke="#000" strokeWidth={1} />
            {VALUE_TICKS.map((v) => (
              <g key={"t" + v}>
                <line x1={PLOT_RIGHT} x2={PLOT_RIGHT + 3.5} y1={y(v)} y2={y(v)} stroke="#000" strokeWidth={0.8} />
                <text
                  transform={`translate(${PLOT_RIGHT + 17.5},${y(v)}) rotate(-90)`}
                  textAnchor="middle"
                  fontSize={10.3}
                >
                  {fmt(v)}
                </text>
              </g>
            ))}
            <text transform={`translate(26.7,${PH / 2}) rotate(-90)`} textAnchor="middle" fontSize={14.5}>
              {PANEL_NAMES[pi]}
            </text>
          </g>
        );
      })}
      {DEPTH_TICKS.map((t) => (
        <g key={"bt" + t}>
          <line x1={x(t)} x2={x(t)} y1={bottom} y2={bottom + 3.5} stroke="#000" strokeWidth={0.8} />
          <text
            transform={`translate(${x(t) + 4.5},${bottom + 8}) rotate(-90)`}
            textAnchor="end"
            fontSize={12.3}
          >
            {t}
          </text>
        </g>
      ))}
    </svg>
  );
}
